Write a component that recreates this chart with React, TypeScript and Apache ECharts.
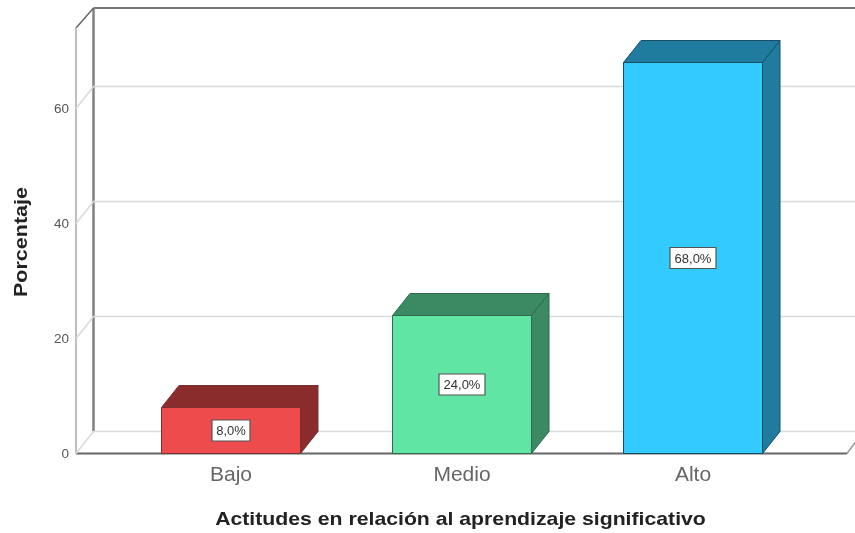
import React, { useEffect, useRef } from "react";
import * as echarts from "echarts";

const categories = ["Bajo", "Medio", "Alto"];
const percentages = [8, 24, 68];
const valueLabels = ["8,0%", "24,0%", "68,0%"];
const gridValues = [0, 20, 40, 60];
const frontColors = ["#EE4B4D", "#60E5A5", "#33CBFF"];
const sideColors = ["#8A2B2C", "#3B8A63", "#1F7C9E"];
const edgeColors = ["#7A3030", "#2E6B4E", "#174F66"];
const xTitle = "Actitudes en relación al aprendizaje significativo";
const yTitle = "Porcentaje";

const DX = 17.5;
const DY = 22;
const BAR_W = 139;
const FRONT_LEFT = 76;
const FRONT_RIGHT = 847;
const RIGHT_EDGE = 856;
const Y0 = 453.5;
const YTOP = 28;
const FONT = "'Liberation Sans', Arial, sans-serif";

export default function App() {
  const ref = useRef<HTMLDivElement>(null);
  useEffect(() => {
    const chart = echarts.init(ref.current!, null, { renderer: "svg" });
    const backL = FRONT_LEFT + DX;
    const option: any = {
      animation: false,
      backgroundColor: "#fff",
      grid: { left: 115.5, right: 46.5, top: YTOP, bottom: 533 - Y0, outerBoundsMode: "none" },
      xAxis: {
        type: "category",
        data: categories,
        axisLine: { show: false },
        axisTick: { show: false },
        axisLabel: { color: "#666", fontSize: 21, fontFamily: FONT, margin: 9 },
      },
      yAxis: {
        type: "value",
        min: 0,
        max: 74,
        interval: 20,
        offset: 39.5,
        axisLine: { show: true, lineStyle: { color: "#a8a8a8", width: 1.5 } },
        axisTick: { show: false },
        splitLine: { show: false },
        axisLabel: { color: "#555", fontSize: 13.5, fontFamily: FONT, margin: 7, showMaxLabel: false },
      },
      graphic: [
        { type: "line", z: 0, shape: { x1: backL, y1: 8, x2: RIGHT_EDGE, y2: 8 }, style: { stroke: "#777", lineWidth: 2 } },
        { type: "line", z: 0, shape: { x1: backL, y1: 8, x2: backL, y2: Y0 - DY }, style: { stroke: "#808080", lineWidth: 2.5 } },
        { type: "line", z: 0, shape: { x1: FRONT_LEFT, y1: YTOP, x2: backL, y2: 8 }, style: { stroke: "#666", lineWidth: 1.5 } },
        { type: "line", z: 0, shape: { x1: FRONT_LEFT, y1: Y0, x2: FRONT_RIGHT, y2: Y0 }, style: { stroke: "#666", lineWidth: 2 } },
        { type: "line", z: 0, shape: { x1: FRONT_RIGHT, y1: Y0, x2: RIGHT_EDGE, y2: Y0 - 12 }, style: { stroke: "#999", lineWidth: 1.5 } },
        {
          type: "text",
          x: 460.5,
          y: 519,
          scaleX: 1.18,
          style: { text: xTitle, x: 0, y: 0, align: "center", verticalAlign: "middle", fontSize: 18, fontWeight: "bold", fontFamily: FONT, fill: "#222" },
        },
        {
          type: "text",
          x: 21,
          y: 242,
          rotation: Math.PI / 2,
          scaleX: 1.195,
          style: { text: yTitle, x: 0, y: 0, align: "center", verticalAlign: "middle", fontSize: 18, fontWeight: "bold", fontFamily: FONT, fill: "#222" },
        },
      ],
      series: [
        {
          type: "custom",
          z: 1,
          silent: true,
          data: gridValues.map((v) => [0, v]),
          renderItem: (_p: any, api: any) => {
            const y = api.coord([0, api.value(1)])[1];
            return {
              type: "polyline",
              shape: { points: [[FRONT_LEFT, y], [backL, y - DY], [RIGHT_EDGE, y - DY]] },
              style: { stroke: "#dadada", lineWidth: 1.6, fill: "none" },
            };
          },
        },
        {
          type: "custom",
          z: 3,
          data: percentages.map((v, i) => [i, v]),
          renderItem: (p: any, api: any) => {
            const i = p.dataIndex;
            const [cx, yTop] = api.coord([api.value(0), api.value(1)]);
            const [, yBase] = api.coord([api.value(0), 0]);
            const l = cx - BAR_W / 2;
            const r = cx + BAR_W / 2;
            const edge = { stroke: edgeColors[i], lineWidth: 1 };
            const boxW = valueLabels[i].length > 4 ? 46 : 38;
            return {
              type: "group",
              children: [
                {
                  type: "polygon",
                  shape: { points: [[l, yTop], [l + DX, yTop - DY], [r + DX, yTop - DY], [r, yTop]] },
                  style: { fill: sideColors[i], ...edge },
                },
                {
                  type: "polygon",
                  shape: { points: [[r, yTop], [r + DX, yTop - DY], [r + DX, yBase - DY], [r, yBase]] },
                  style: { fill: sideColors[i], ...edge },
                },
                {
                  type: "rect",
                  shape: { x: l, y: yTop, width: BAR_W, height: yBase - yTop },
                  style: { fill: frontColors[i], ...edge },
                },
                {
                  type: "rect",
                  shape: { x: cx - boxW / 2, y: (yTop + yBase) / 2 - 10.5, width: boxW, height: 21 },
                  style: { fill: "#fff", stroke: "#555", lineWidth: 1.2 },
                },
                {
                  type: "text",
                  style: {
                    text: valueLabels[i],
                    x: cx,
                    y: (yTop + yBase) / 2,
                    align: "center",
                    verticalAlign: "middle",
                    fontSize: 13,
                    fontFamily: FONT,
                    fill: "#333",
                  },
                },
              ],
            };
          },
        },
      ],
    };
    chart.setOption(option);
    return () => chart.dispose();
  }, []);
  return (
    <div
      ref={ref}
      style={{ position: "fixed", left: 0, top: 0, width: 855, height: 533, filter: "blur(0.7px)" }}
    />
  );
}
